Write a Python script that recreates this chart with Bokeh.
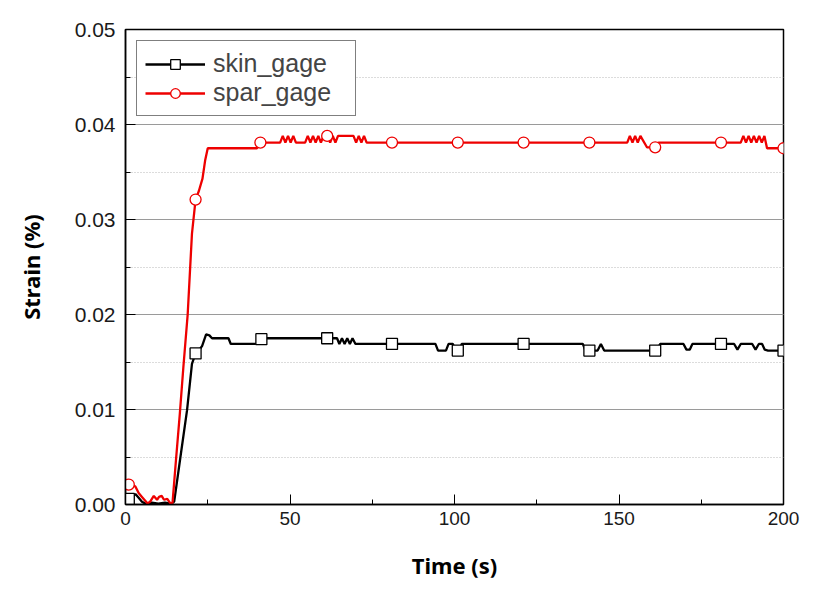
from bokeh.plotting import figure
from bokeh.models import Range1d, SingleIntervalTicker, PrintfTickFormatter, Legend
from bokeh.embed import file_html
from bokeh.resources import INLINE

# ---- data ----
skin_t = [0, 1, 2, 3, 4, 5, 6, 8, 10, 12, 14, 14.8, 16.7, 18.7, 20.2, 21.3, 22.3, 23.3, 24.5, 25.5, 26.3,
          31.3, 32, 40.5, 41.3, 64.3, 65, 65.8, 66.6, 67.4, 68.2, 69, 69.9, 94.2, 95, 97.4, 98.2, 99.5,
          100.3, 101.5, 102.2, 139, 139.8, 143.5, 144.5, 145.5, 159.6, 161.5, 162.5, 169.6, 170.5, 171.5,
          172.3, 185, 186, 187, 190.5, 191.5, 192.5, 193.5, 194.3, 195.3, 200]
skin_v = [0.0005, 0.0006, 0.0008, 0.0011, 0.0007, 0.0003, 0.0001, 0.0002, 0.0001, 0.0002, 0.0001, 0.0003,
          0.0050, 0.0099, 0.0148, 0.0159, 0.0162, 0.0167, 0.0179, 0.0178, 0.0175,
          0.0175, 0.0169, 0.0169, 0.0175, 0.0175, 0.0169, 0.0175, 0.0169, 0.0175, 0.0169, 0.0175, 0.0169,
          0.0169, 0.0162, 0.0162, 0.0169, 0.0169,
          0.0162, 0.0162, 0.0169, 0.0169, 0.0162, 0.0162, 0.0169, 0.0162, 0.0162, 0.0162, 0.0169, 0.0169,
          0.0163, 0.0163, 0.0169, 0.0169, 0.0163, 0.0169, 0.0169, 0.0163, 0.0169, 0.0169, 0.0163, 0.0162, 0.0162]
skin_mark_t = [1, 21.3, 41.3, 61.3, 81, 101, 121, 141, 161, 181, 200]
skin_mark_v = [0.0006, 0.0159, 0.0174, 0.0175, 0.0169, 0.0162, 0.0169, 0.0162, 0.0162, 0.0169, 0.0162]

spar_t = [0, 1, 2, 3, 4, 5, 6, 6.7, 7.5, 8.6, 9.6, 10.2, 11, 11.7, 12.7, 13.7, 14.3, 15.3, 16.5, 17.6,
          18.9, 20.2, 21.3, 22.3, 23.4, 24.2, 25, 40, 40.5, 47, 47.8, 48.6, 49.4, 50.2, 51, 51.8, 54.6,
          55.4, 56.2, 57, 57.8, 58.6, 59.4, 60.2, 61.3, 62.2, 63, 63.8, 64.6, 69.3, 70.1, 70.9, 71.7,
          72.5, 73.3, 152.5, 153.3, 154.1, 154.9, 155.7, 156.5, 158.5, 161, 162, 187, 187.8, 188.6,
          189.4, 190.2, 191, 191.8, 192.6, 193.4, 194.2, 195, 200]
spar_v = [0.0022, 0.0022, 0.0020, 0.0019, 0.0012, 0.0008, 0.0004, 0.0001, 0.0003, 0.0009, 0.0005, 0.0008,
          0.0009, 0.0005, 0.0006, 0.0001, 0.0002, 0.0045, 0.0095, 0.0145,
          0.0200, 0.0285, 0.0321, 0.0330, 0.0343, 0.0362, 0.0375, 0.0375, 0.0381, 0.0381, 0.0388, 0.0381,
          0.0388, 0.0381, 0.0388, 0.0381, 0.0381,
          0.0388, 0.0381, 0.0388, 0.0381, 0.0388, 0.0381, 0.0388, 0.0388, 0.0381, 0.0388, 0.0381, 0.0388,
          0.0388, 0.0381, 0.0388, 0.0381,
          0.0388, 0.0381, 0.0381, 0.0388, 0.0381, 0.0388, 0.0381, 0.0388, 0.0376, 0.0376, 0.0381,
          0.0381, 0.0388, 0.0381,
          0.0388, 0.0381, 0.0388, 0.0381, 0.0388, 0.0381, 0.0388, 0.0375, 0.0375]
spar_mark_t = [1, 21.3, 41, 61.3, 81, 101, 121, 141, 161, 181, 200]
spar_mark_v = [0.0021, 0.0321, 0.0381, 0.0388, 0.0381, 0.0381, 0.0381, 0.0381, 0.0376, 0.0381, 0.0375]

x_label = "Time (s)"
y_label = "Strain (%)"

p = figure(width=831, height=589, x_range=Range1d(0, 200), y_range=Range1d(0, 0.05),
           output_backend="svg", toolbar_location=None,
           min_border_left=125, min_border_right=48, min_border_top=29, min_border_bottom=85)
p.background_fill_color = "white"
p.border_fill_color = "white"
p.outline_line_color = "black"
p.outline_line_width = 1.5
p.outline_line_alpha = 1.0

p.xgrid.visible = False
p.ygrid.grid_line_color = "#9a9a9a"
p.ygrid.grid_line_width = 1
p.ygrid.minor_grid_line_color = "#b8b8b8"
p.ygrid.minor_grid_line_dash = "1 2"

p.xaxis.ticker = SingleIntervalTicker(interval=50, num_minor_ticks=2)
p.yaxis.ticker = SingleIntervalTicker(interval=0.01, num_minor_ticks=2)
p.yaxis.formatter = PrintfTickFormatter(format="%.2f")
for ax in (p.xaxis, p.yaxis):
    ax.axis_line_width = 1.5
    ax.axis_line_color = "black"
    ax.major_tick_in = 10
    ax.major_tick_out = 0
    ax.minor_tick_in = 5
    ax.minor_tick_out = 0
    ax.major_tick_line_color = "black"
    ax.minor_tick_line_color = "black"
    ax.major_label_text_font = "Liberation Sans"
    ax.major_label_text_color = "#1a1a1a"
    ax.axis_label_text_font = "Noto Sans"
    ax.axis_label_text_font_style = "bold"
    ax.axis_label_text_font_size = "22px"
    ax.axis_label_text_color = "black"
p.xaxis.major_label_text_font_size = "19px"
p.yaxis.major_label_text_font_size = "21px"
p.xaxis.major_label_standoff = 7
p.yaxis.major_label_standoff = 10
p.xaxis.axis_label = x_label
p.yaxis.axis_label = y_label
p.xaxis.axis_label_standoff = 22
p.yaxis.axis_label_standoff = 26

l1 = p.line(skin_t, skin_v, line_color="black", line_width=2.3)
m1 = p.scatter(skin_mark_t, skin_mark_v, marker="square", size=11, fill_color="white",
               line_color="black", line_width=1.3)
l2 = p.line(spar_t, spar_v, line_color="#ee0000", line_width=2.3)
m2 = p.scatter(spar_mark_t, spar_mark_v, marker="circle", size=11, fill_color="white",
               line_color="#ee0000", line_width=1.3)

legend = Legend(items=[("skin_gage", [l1, m1]), ("spar_gage", [l2, m2])],
                location="top_left", margin=11, padding=8, spacing=0,
                glyph_width=60, glyph_height=24, label_height=24, label_width=134, label_standoff=8,
                label_text_font="Liberation Sans", label_text_font_size="25px",
                border_line_color="black", border_line_width=1.5,
                background_fill_color="white", background_fill_alpha=1.0)
p.add_layout(legend)

open("out.html", "w").write(file_html(p, INLINE))
